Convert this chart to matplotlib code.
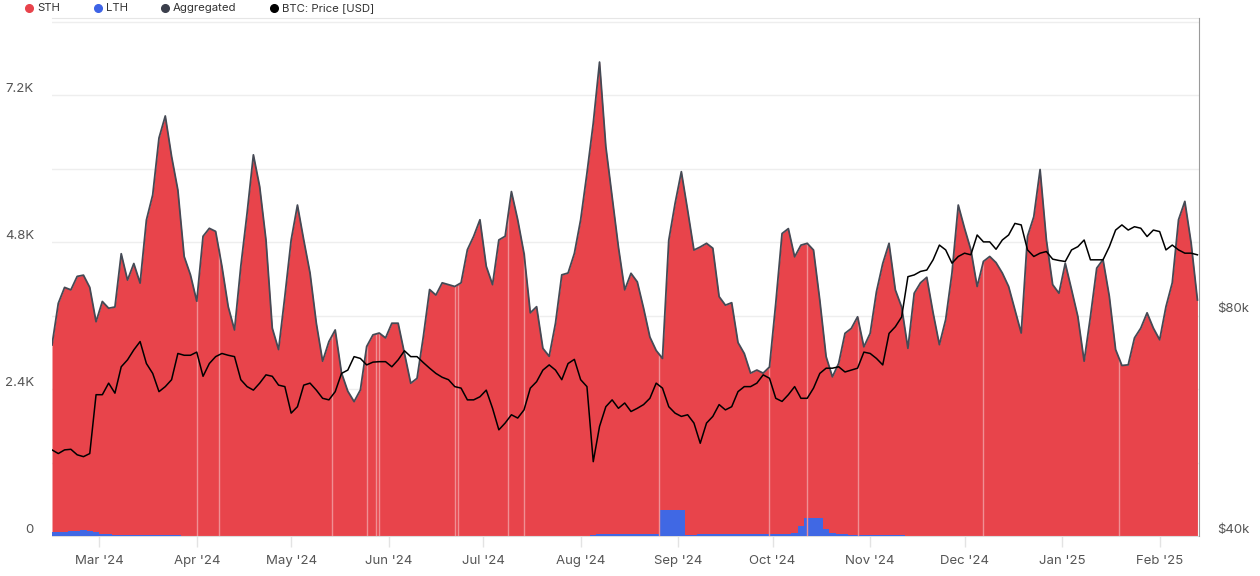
import numpy as np
import pandas as pd
import matplotlib
matplotlib.use("Agg")
import matplotlib.pyplot as plt
import matplotlib.dates as mdates
from matplotlib.lines import Line2D

# daily-ish samples, every 2 days from 15 Feb 2024
start_date = "2024-02-15"
step_days = 2

# short-term holder value (thousands)
sth = [
    3.06, 3.73, 3.99, 3.94, 4.16, 4.17, 3.98, 3.44, 3.79, 3.69,
    3.72, 4.59, 4.17, 4.44, 4.12, 5.15, 5.56, 6.49, 6.85, 6.19,
    5.64, 4.56, 4.26, 3.83, 4.89, 5.02, 4.97, 4.40, 3.74, 3.36,
    4.40, 5.27, 6.22, 5.70, 4.83, 3.39, 3.04, 3.91, 4.83, 5.40,
    4.83, 4.29, 3.47, 2.85, 3.17, 3.36, 2.66, 2.36, 2.19, 2.38,
    3.09, 3.28, 3.31, 3.23, 3.47, 3.47, 2.98, 2.49, 2.57, 3.25,
    4.02, 3.93, 4.13, 4.10, 4.07, 4.13, 4.67, 4.89, 5.16, 4.40,
    4.10, 4.83, 4.89, 5.62, 5.16, 4.61, 3.64, 3.74, 3.06, 2.93,
    3.47, 4.26, 4.29, 4.61, 5.16, 5.92, 6.72, 7.71, 6.33, 5.50,
    4.68, 3.98, 4.26, 4.12, 3.69, 3.22, 3.00, 2.48, 4.41, 5.01,
    5.53, 5.30, 4.65, 4.69, 4.75, 4.66, 3.87, 3.73, 3.77, 3.12,
    2.95, 2.63, 2.68, 2.63, 2.73, 3.77, 4.91, 4.98, 4.51, 4.59,
    4.49, 4.38, 3.56, 2.81, 2.55, 2.79, 3.28, 3.37, 3.56, 3.07,
    3.29, 3.97, 4.43, 4.76, 4.00, 3.72, 3.06, 3.96, 4.13, 4.22,
    3.64, 3.12, 3.53, 4.29, 5.40, 5.02, 4.67, 4.07, 4.48, 4.56,
    4.46, 4.29, 4.07, 3.69, 3.31, 4.89, 5.21, 5.98, 4.83, 4.10,
    3.96, 4.45, 4.02, 3.58, 2.85, 3.58, 4.37, 4.51, 3.91, 3.04,
    2.78, 2.79, 3.23, 3.39, 3.64, 3.39, 3.20, 3.74, 4.13, 5.16,
    5.46, 4.78, 3.85,
]

# long-term holder value (thousands)
lth = [
    0.06, 0.07, 0.07, 0.08, 0.08, 0.09, 0.08, 0.06, 0.04, 0.03,
    0.02, 0.02, 0.01, 0.01, 0.01, 0.01, 0.01, 0.01, 0.01, 0.01,
    0.01, 0.005, 0.005, 0.005, 0.005, 0.005, 0.005, 0.005, 0.005, 0.005,
    0.005, 0.005, 0.005, 0.005, 0.005, 0.005, 0.005, 0.005, 0.005, 0.005,
    0.005, 0.005, 0.005, 0.005, 0.005, 0.005, 0.005, 0.005, 0.005, 0.005,
    0.005, 0.005, 0.005, 0.005, 0.005, 0.005, 0.005, 0.005, 0.005, 0.005,
    0.005, 0.005, 0.005, 0.005, 0.005, 0.005, 0.005, 0.005, 0.005, 0.005,
    0.005, 0.005, 0.005, 0.005, 0.005, 0.005, 0.005, 0.005, 0.005, 0.005,
    0.005, 0.005, 0.005, 0.005, 0.005, 0.005, 0.02, 0.03, 0.03, 0.04,
    0.04, 0.04, 0.03, 0.03, 0.03, 0.03, 0.03, 0.42, 0.42, 0.42,
    0.42, 0.02, 0.02, 0.03, 0.03, 0.04, 0.04, 0.04, 0.04, 0.04,
    0.03, 0.03, 0.03, 0.03, 0.03, 0.03, 0.03, 0.04, 0.05, 0.16,
    0.29, 0.29, 0.29, 0.12, 0.05, 0.03, 0.03, 0.02, 0.02, 0.02,
    0.02, 0.02, 0.02, 0.02, 0.02, 0.02, 0.005, 0.005, 0.005, 0.005,
    0.005, 0.005, 0.005, 0.005, 0.005, 0.005, 0.005, 0.005, 0.005, 0.005,
    0.005, 0.005, 0.005, 0.005, 0.005, 0.005, 0.005, 0.005, 0.005, 0.005,
    0.005, 0.005, 0.005, 0.005, 0.005, 0.005, 0.005, 0.005, 0.005, 0.005,
    0.005, 0.005, 0.005, 0.005, 0.005, 0.005, 0.005, 0.005, 0.005, 0.005,
    0.005, 0.005, 0.005,
]

# BTC price, thousands of USD
price = [
    52.4, 51.8, 52.4, 52.5, 51.6, 51.3, 51.8, 62.3, 62.3, 64.6,
    62.6, 68.0, 69.5, 71.7, 73.6, 68.7, 66.6, 62.9, 63.9, 65.3,
    70.9, 70.5, 70.5, 71.2, 66.0, 68.7, 70.2, 70.9, 70.5, 70.2,
    65.3, 63.9, 63.2, 64.6, 66.3, 66.0, 64.2, 63.9, 58.8, 60.0,
    64.2, 64.6, 63.2, 61.6, 61.3, 62.9, 66.6, 67.3, 70.2, 69.8,
    68.4, 69.0, 69.1, 69.1, 68.0, 69.5, 71.5, 70.2, 70.2, 68.9,
    67.7, 66.6, 65.8, 65.3, 63.9, 63.6, 61.3, 61.3, 61.9, 63.2,
    59.7, 55.8, 57.0, 58.5, 57.9, 59.4, 63.6, 64.9, 67.3, 68.4,
    67.3, 65.3, 68.7, 69.6, 65.3, 63.9, 50.5, 56.4, 60.0, 61.3,
    59.7, 60.7, 59.1, 59.7, 60.4, 61.6, 64.6, 63.6, 60.0, 58.8,
    58.2, 58.5, 57.0, 53.5, 57.0, 58.2, 60.4, 59.4, 60.0, 62.9,
    63.9, 63.9, 64.6, 66.3, 65.6, 61.6, 61.0, 62.3, 63.9, 61.6,
    61.6, 63.6, 66.6, 67.7, 67.7, 68.0, 66.9, 67.3, 67.7, 71.2,
    70.9, 69.8, 68.4, 75.5, 77.1, 79.5, 90.2, 90.7, 91.7, 92.1,
    95.1, 99.6, 98.1, 94.1, 96.1, 97.1, 96.6, 102.8, 100.6, 100.6,
    98.3, 101.2, 102.8, 106.6, 106.1, 98.1, 96.1, 97.1, 97.6, 95.3,
    94.9, 94.6, 98.1, 99.1, 101.2, 95.1, 95.1, 95.1, 99.1, 104.4,
    106.1, 104.4, 105.5, 105.0, 102.3, 104.4, 103.9, 98.1, 99.6, 98.1,
    97.1, 97.1, 96.6,
]

# days with missing data (light lines in the area)
gap_dates = ["2024-04-01", "2024-04-08", "2024-05-14", "2024-05-25", "2024-05-28",
             "2024-05-29", "2024-06-22", "2024-06-23", "2024-07-09", "2024-07-14",
             "2024-08-26", "2024-09-30", "2024-10-12", "2024-10-28", "2024-12-07",
             "2025-01-19"]

left_ticks = [0, 2.4, 4.8, 7.2]
left_minor = [1.2, 3.6, 6.0, 8.4]
right_ticks = [40, 80]
right_labels = ["$40k", "$80k"]

legend_labels = ["STH", "LTH", "Aggregated", "BTC: Price [USD]"]
legend_colors = ["#e8434b", "#3d63e6", "#3b3f4c", "#000000"]

RED = "#e8444b"
BLUE = "#4068e4"
AGG = "#454a55"
TXT = "#555555"

plt.rcParams["font.family"] = ["Inter", "DejaVu Sans"]

dates = pd.date_range(start_date, periods=len(sth), freq=f"{step_days}D")
sth_a = np.array(sth)
lth_a = np.array(lth)
agg = sth_a + lth_a

fig = plt.figure(figsize=(12.6, 5.76), dpi=100)
ax = fig.add_axes([52 / 1260, 40 / 576, 1147 / 1260, 518 / 576])

ax.fill_between(dates, 0, agg, color=RED, lw=0, zorder=2)
ax.fill_between(dates, 0, lth_a, color=BLUE, lw=0, step="mid", zorder=3)

# light gap lines inside the area
gd = pd.to_datetime(gap_dates)
gnum = mdates.date2num(gd)
gtop = np.interp(gnum, mdates.date2num(dates), agg)
ax.vlines(gd, 0, gtop, color="#f08f93", lw=1, zorder=3)

ax.plot(dates, agg, color=AGG, lw=1.3, zorder=4)

ax.set_xlim(dates[0], dates[-1] + pd.Timedelta(days=0.5))
ax.set_ylim(0, 8.46)
ax.set_yticks(left_ticks)
ax.set_yticks(left_minor, minor=True)
ax.set_yticklabels(["0" if v == 0 else f"{v:.1f}K" for v in left_ticks])
ax.grid(axis="y", which="both", color="#eeeeee", lw=1)
ax.set_axisbelow(True)
ax.tick_params(axis="y", which="both", length=0, pad=13, labelsize=9.5, labelcolor=TXT)
for t in ax.get_yticklabels():
    t.set_va("bottom")

month_ticks = pd.date_range("2024-03-01", "2025-02-01", freq="MS")
ax.set_xticks(month_ticks)
ax.set_xticklabels([d.strftime("%b '%y") for d in month_ticks])
ax.tick_params(axis="x", length=8, width=1, color="#e3e3e3", pad=6,
               labelsize=9.5, labelcolor=TXT)

for s in ["left", "right"]:
    ax.spines[s].set_visible(False)
ax.spines["top"].set_color("#e6e6e6")
ax.spines["bottom"].set_color("#dddddd")

ax2 = ax.twinx()
ax2.plot(dates, price, color="black", lw=1.1, zorder=5)
ax2.set_yscale("log")
ax2.set_ylim(40, 203)
ax2.set_yticks(right_ticks)
ax2.set_yticklabels(right_labels)
ax2.minorticks_off()
ax2.tick_params(axis="y", length=0, pad=13, labelsize=9.5, labelcolor=TXT)
for t in ax2.get_yticklabels():
    t.set_va("bottom")
for s in ["left", "top", "bottom"]:
    ax2.spines[s].set_visible(False)
ax2.spines["right"].set_color("#9a9a9a")

# legend row on top
dot_x = [29, 98, 165, 274]
ly = 1 - 8 / 576
for lab, col, px in zip(legend_labels, legend_colors, dot_x):
    fig.add_artist(Line2D([px / 1260], [ly], transform=fig.transFigure, marker="o",
                          markersize=5.5, color=col, linestyle="none"))
    fig.text((px + 8) / 1260, ly, lab, fontsize=8.2, color="#333333", va="center", ha="left")

fig.savefig("out.png", dpi=100)
